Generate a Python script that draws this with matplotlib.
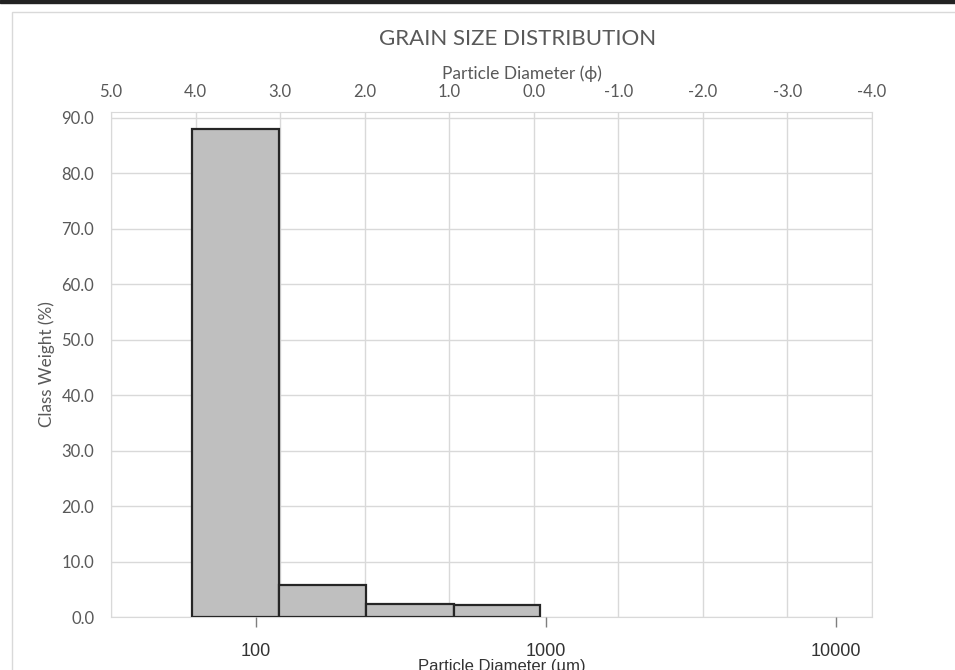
import matplotlib
matplotlib.use("Agg")
import matplotlib.pyplot as plt
from matplotlib.patches import Rectangle

edges_um = [60, 120, 240, 480, 950]
weights = [88.0, 5.8, 2.35, 2.1]

phi_ticks = [5.0, 4.0, 3.0, 2.0, 1.0, 0.0, -1.0, -2.0, -3.0, -4.0]
um_ticks = [100, 1000, 10000]
y_ticks = [0, 10, 20, 30, 40, 50, 60, 70, 80, 90]

grey = '#595959'
grid_c = '#d9d9d9'

fig = plt.figure(figsize=(9.55, 6.70), dpi=100)
rect = [0.1162, 0.0791, 0.7969, 0.7537]

# frame of the chart area
fig.add_artist(Rectangle((12 / 955, -0.05), 1.0, 1 - 12 / 670 + 0.05,
                         transform=fig.transFigure, fill=False,
                         edgecolor=grid_c, linewidth=1.0))
fig.add_artist(Rectangle((0, 1 - 3 / 670), 1.0, 3 / 670,
                         transform=fig.transFigure, color='#222222'))

# phi axis (top) carries the grid and the y axis
ax = fig.add_axes(rect)
ax.set_xlim(5, -4)
ax.set_ylim(0, 91)
ax.set_xticks(phi_ticks)
ax.set_xticklabels(['%.1f' % t for t in phi_ticks])
ax.xaxis.tick_top()
ax.xaxis.set_label_position('top')
ax.set_yticks(y_ticks)
ax.set_yticklabels(['%.1f' % t for t in y_ticks])
ax.tick_params(axis='both', length=0, colors=grey, labelsize=12)
ax.tick_params(axis='y', pad=12)
ax.tick_params(axis='x', pad=9)
for lab in ax.get_xticklabels() + ax.get_yticklabels():
    lab.set_family('Lato')
ax.grid(True, color=grid_c, linewidth=1.0)
ax.set_axisbelow(True)
for s in ax.spines.values():
    s.set_color(grid_c)
ax.set_xlabel('Particle Diameter (\u03d5)', family=['Lato', 'DejaVu Sans'],
              color=grey, fontsize=12.5, labelpad=3, x=0.54)
ax.set_ylabel('Class Weight (%)', family='Lato', color=grey, fontsize=12.3,
              labelpad=5)

# um axis (bottom) carries the bars
ax2 = fig.add_axes(rect)
ax2.patch.set_visible(False)
ax2.set_xscale('log')
ax2.set_xlim(31.6, 13300)
ax2.set_ylim(0, 91)
for s in ax2.spines.values():
    s.set_visible(False)
ax2.set_yticks([])
ax2.set_xticks(um_ticks)
ax2.set_xticklabels([str(t) for t in um_ticks])
ax2.xaxis.set_minor_locator(matplotlib.ticker.NullLocator())
ax2.tick_params(axis='x', direction='out', length=7, width=1, color='#7f7f7f',
                labelcolor='#333333', labelsize=13, pad=12)
for lab in ax2.get_xticklabels():
    lab.set_family('Liberation Sans')

lefts = edges_um[:-1]
widths = [edges_um[i + 1] - edges_um[i] for i in range(len(weights))]
ax2.bar(lefts, weights, width=widths, align='edge', color='#bfbfbf',
        edgecolor='#262626', linewidth=1.6)
ax2.set_xlabel('Particle Diameter (\u00b5m)', family='Liberation Sans',
               color='#333333', fontsize=12, labelpad=-1, x=0.514)

fig.text(0.5424, 0.942, 'GRAIN SIZE DISTRIBUTION', ha='center', va='center',
         family='Lato', color=grey, fontsize=16)

fig.savefig('out.png', dpi=100)
